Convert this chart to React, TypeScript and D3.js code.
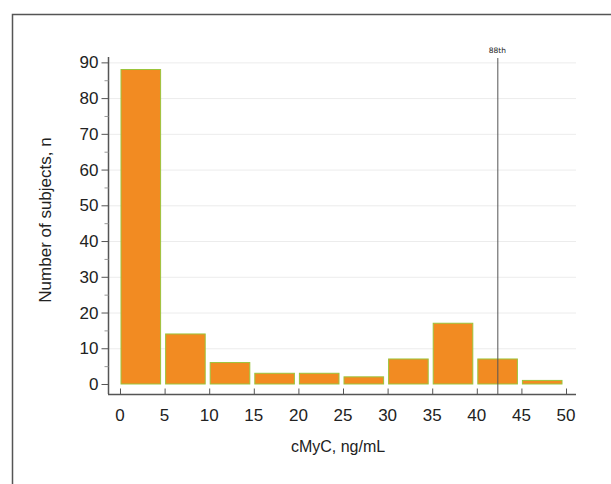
import React, { useEffect, useRef } from "react";
import * as d3 from "d3";

// histogram bins of cMyC (ng/mL), width 5
const binStarts = [0, 5, 10, 15, 20, 25, 30, 35, 40, 45];
const binCounts = [88, 14, 6, 3, 3, 2, 7, 17, 7, 1];
const binWidth = 5;
const xTicks = [0, 5, 10, 15, 20, 25, 30, 35, 40, 45, 50];
const yTicks = [0, 10, 20, 30, 40, 50, 60, 70, 80, 90];
const yMinorTicks = [5, 15, 25, 35, 45, 55, 65, 75, 85];
const percentileValue = 42.3;
const percentileLabel = "88th";

const FONT = "Liberation Sans, Arial, sans-serif";

export default function App() {
  const ref = useRef<SVGSVGElement>(null);

  useEffect(() => {
    const svg = d3.select(ref.current);
    svg.selectAll("*").remove();

    const x = d3.scaleLinear().domain([-1.345, 51.12]).range([108, 576]);
    const y = d3.scaleLinear().domain([-2.8, 91.5]).range([394, 57]);

    // outer frame (cut at right and bottom)
    svg.append("rect")
      .attr("x", 12.5).attr("y", 14.5)
      .attr("width", 620).attr("height", 500)
      .attr("fill", "none")
      .attr("stroke", "#555")
      .attr("stroke-width", 1.5);

    // gridlines
    svg.append("g")
      .selectAll("line")
      .data(yTicks.slice(1))
      .join("line")
      .attr("x1", 109).attr("x2", 576)
      .attr("y1", d => y(d) + 0.5).attr("y2", d => y(d) + 0.5)
      .attr("stroke", "#ececec");

    // bars
    svg.append("g")
      .selectAll("rect")
      .data(binStarts.map((s, i) => ({ s, n: binCounts[i] })))
      .join("rect")
      .attr("x", d => x(d.s) + 1)
      .attr("width", d => x(d.s + binWidth) - x(d.s) - 5)
      .attr("y", d => y(d.n))
      .attr("height", d => y(0) - y(d.n))
      .attr("fill", "#f28b22")
      .attr("stroke", "#9cc43c")
      .attr("stroke-width", 1);

    // y axis
    const yAxis = svg.append("g").attr("transform", "translate(108.5,0)");
    yAxis.append("line")
      .attr("x1", 0).attr("x2", 0)
      .attr("y1", y(91.5)).attr("y2", y(-2.8))
      .attr("stroke", "#555").attr("stroke-width", 1.5);
    yAxis.selectAll(".maj")
      .data(yTicks)
      .join("line")
      .attr("class", "maj")
      .attr("x1", -7).attr("x2", 0)
      .attr("y1", d => y(d) + 0.5).attr("y2", d => y(d) + 0.5)
      .attr("stroke", "#555");
    yAxis.selectAll(".min")
      .data(yMinorTicks)
      .join("line")
      .attr("class", "min")
      .attr("x1", -4).attr("x2", 0)
      .attr("y1", d => y(d) + 0.5).attr("y2", d => y(d) + 0.5)
      .attr("stroke", "#999");
    yAxis.selectAll("text")
      .data(yTicks)
      .join("text")
      .attr("x", -10)
      .attr("y", d => y(d))
      .attr("dy", "0.36em")
      .attr("text-anchor", "end")
      .attr("font-family", FONT)
      .attr("font-size", 17)
      .attr("fill", "#222")
      .text(d => d);

    // x axis
    const xAxis = svg.append("g").attr("transform", "translate(0,394.5)");
    xAxis.append("line")
      .attr("x1", 108).attr("x2", 576)
      .attr("y1", 0).attr("y2", 0)
      .attr("stroke", "#555").attr("stroke-width", 1.5);
    xAxis.selectAll("line.t")
      .data(xTicks)
      .join("line")
      .attr("class", "t")
      .attr("x1", d => x(d) + 0.5).attr("x2", d => x(d) + 0.5)
      .attr("y1", -6).attr("y2", 0)
      .attr("stroke", "#555");
    xAxis.selectAll("text")
      .data(xTicks)
      .join("text")
      .attr("x", d => x(d))
      .attr("y", 26)
      .attr("text-anchor", "middle")
      .attr("font-family", FONT)
      .attr("font-size", 17)
      .attr("fill", "#222")
      .text(d => d);

    // percentile line
    svg.append("line")
      .attr("x1", x(percentileValue) + 0.5).attr("x2", x(percentileValue) + 0.5)
      .attr("y1", 58).attr("y2", 394)
      .attr("stroke", "#555").attr("stroke-width", 1);
    svg.append("text")
      .attr("x", x(percentileValue))
      .attr("y", 53)
      .attr("text-anchor", "middle")
      .attr("font-family", "DejaVu Sans, sans-serif")
      .attr("font-size", 7.5)
      .attr("fill", "#222")
      .text(percentileLabel);

    // axis titles
    svg.append("text")
      .attr("x", 338).attr("y", 452)
      .attr("text-anchor", "middle")
      .attr("font-family", FONT)
      .attr("font-size", 16)
      .attr("fill", "#222")
      .text("cMyC, ng/mL");
    svg.append("text")
      .attr("transform", "translate(51,220) rotate(-90)")
      .attr("text-anchor", "middle")
      .attr("font-family", FONT)
      .attr("font-size", 17)
      .attr("fill", "#222")
      .text("Number of subjects, n");
  }, []);

  return (
    <svg
      ref={ref}
      width={611}
      height={484}
      style={{ position: "absolute", left: 0, top: 0, background: "#fff" }}
    />
  );
}
